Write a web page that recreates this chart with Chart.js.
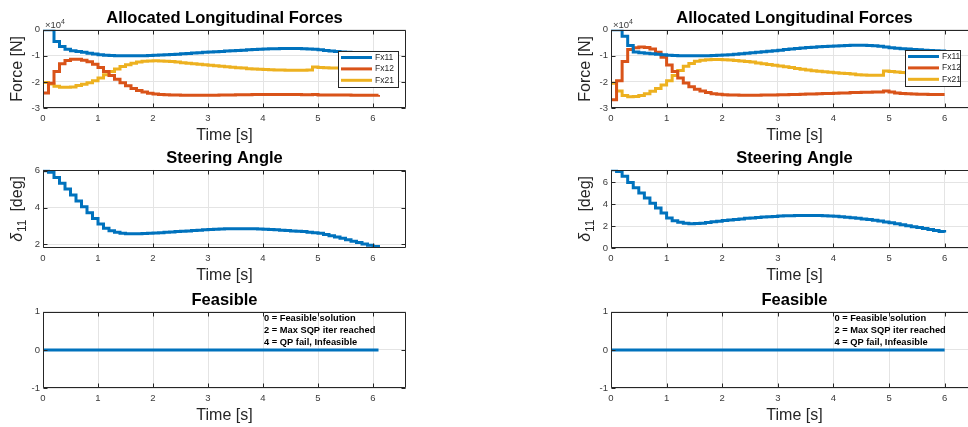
<!DOCTYPE html>
<html>
<head>
<meta charset="utf-8">
<script src="https://cdn.jsdelivr.net/npm/chart.js@4.4.0/dist/chart.umd.min.js"></script>
<style>
  html, body { margin: 0; padding: 0; background: #fff; overflow: hidden; }
  body { width: 968px; height: 427px; position: relative; }
  canvas { position: absolute; }
</style>
</head>
<body>
<canvas id="forcesL"></canvas>
<canvas id="steerL"></canvas>
<canvas id="feasL"></canvas>
<canvas id="forcesR"></canvas>
<canvas id="steerR"></canvas>
<canvas id="feasR"></canvas>
<script>
// sample times [s]
const tLeft = [0,0.1,0.2,0.3,0.4,0.5,0.6,0.7,0.8,0.9,1,1.1,1.2,1.3,1.4,1.5,1.6,1.7,1.8,1.9,
  2,2.1,2.2,2.3,2.4,2.5,2.6,2.7,2.8,2.9,3,3.1,3.2,3.3,3.4,3.5,3.6,3.7,3.8,3.9,
  4,4.1,4.2,4.3,4.4,4.5,4.6,4.7,4.8,4.9,5,5.1,5.2,5.3,5.4,5.5,5.6,5.7,5.8,5.9,6,6.1];
const tRight = [0,0.1,0.2,0.3,0.4,0.5,0.6,0.7,0.8,0.9,1,1.1,1.2,1.3,1.4,1.5,1.6,1.7,1.8,1.9,
  2,2.1,2.2,2.3,2.4,2.5,2.6,2.7,2.8,2.9,3,3.1,3.2,3.3,3.4,3.5,3.6,3.7,3.8,3.9,
  4,4.1,4.2,4.3,4.4,4.5,4.6,4.7,4.8,4.9,5,5.1,5.2,5.3,5.4,5.5,5.6,5.7,5.8,5.9,6];

// allocated longitudinal forces [N], run 1
const fx11Left = [0,0,-4500,-6400,-7500,-8000,-8300,-8600,-9000,-9300,
  -9600,-9800,-9900,-10000,-10000,-10000,-10000,-10000,-10000,-9900,
  -9800,-9700,-9600,-9500,-9400,-9200,-9100,-8900,-8800,-8600,
  -8500,-8400,-8300,-8100,-8000,-7900,-7800,-7700,-7600,-7500,
  -7400,-7300,-7300,-7200,-7200,-7200,-7200,-7300,-7400,-7500,
  -7700,-7900,-8100,-8300,-8500,-8600,-8700,-8800,-8900,-9000,
  -9000,-9100];
const fx12Left = [-24200,-20500,-16000,-13000,-11800,-11300,-11300,-11700,-12300,-13200,
  -14500,-16000,-17500,-19000,-20300,-21500,-22500,-23300,-23900,-24300,
  -24600,-24800,-24900,-25000,-25000,-25100,-25100,-25100,-25100,-25100,
  -25100,-25100,-25000,-25000,-25000,-24900,-24900,-24900,-24800,-24800,
  -24800,-24800,-24800,-24800,-24800,-24800,-24800,-24900,-24900,-24800,
  -25000,-25000,-25000,-25000,-25000,-25000,-25100,-25100,-25100,-25100,
  -25100,-25000];
const fx21Left = [-20200,-20800,-21700,-22000,-22000,-21900,-21400,-20900,-20300,-19500,
  -18500,-17200,-16000,-15000,-14100,-13400,-12800,-12400,-12100,-12000,
  -11900,-12000,-12100,-12200,-12400,-12600,-12800,-13000,-13200,-13400,
  -13600,-13800,-14000,-14200,-14400,-14600,-14700,-14900,-15000,-15100,
  -15200,-15300,-15400,-15400,-15500,-15500,-15500,-15500,-15400,-14300,
  -14500,-14600,-14700,-14700,-14800,-14800,-14900,-14900,-15000,-15000,
  -15000,-15000];
// steering angle [deg], run 1
const delta11Left = [6.0,5.92,5.63,5.32,5.0,4.68,4.36,4.04,3.72,3.4,
  3.1,2.88,2.74,2.65,2.6,2.57,2.57,2.58,2.59,2.6,
  2.62,2.63,2.65,2.67,2.69,2.71,2.73,2.75,2.77,2.79,
  2.8,2.82,2.83,2.84,2.85,2.85,2.85,2.85,2.84,2.83,
  2.82,2.8,2.79,2.77,2.75,2.73,2.71,2.69,2.66,2.63,
  2.6,2.54,2.47,2.4,2.33,2.25,2.17,2.1,2.02,1.95,
  1.88,1.82];
// solver exit flag, run 1
const feasLeft = [0,0,0,0,0,0,0,0,0,0,0,0,0,0,0,0,0,0,0,0,0,0,0,0,0,0,0,0,0,0,0,
  0,0,0,0,0,0,0,0,0,0,0,0,0,0,0,0,0,0,0,0,0,0,0,0,0,0,0,0,0,0,0];

// allocated longitudinal forces [N], run 2
const fx11Right = [0,0,-2500,-6000,-8500,-8800,-9000,-9200,-9400,-9600,
  -9800,-9900,-10000,-10000,-10000,-10000,-10000,-10000,-9900,-9800,
  -9700,-9600,-9400,-9200,-9000,-8800,-8600,-8400,-8200,-8000,
  -7800,-7600,-7400,-7200,-7000,-6800,-6700,-6500,-6400,-6300,
  -6200,-6100,-6000,-5900,-5900,-5900,-6000,-6100,-6300,-6600,
  -6900,-7100,-7300,-7400,-7600,-7700,-7800,-7900,-8000,-8100,
  -8200];
const fx12Right = [-26800,-19500,-12200,-7600,-6900,-6600,-6800,-7400,-8600,-10500,
  -13500,-16000,-18500,-20400,-21800,-22800,-23500,-24100,-24500,-24700,
  -24900,-25000,-25000,-25100,-25100,-25100,-25100,-25000,-25000,-25000,
  -24900,-24900,-24800,-24800,-24700,-24600,-24600,-24500,-24400,-24400,
  -24300,-24200,-24200,-24100,-24100,-24000,-24000,-23900,-23900,-23500,
  -23900,-24200,-24400,-24500,-24600,-24700,-24700,-24800,-24800,-24800,
  -24800];
const fx21Right = [-20500,-23500,-25200,-25700,-25600,-25200,-24500,-23600,-22500,-21200,
  -19500,-17500,-15600,-14000,-12900,-12100,-11700,-11500,-11400,-11400,
  -11500,-11600,-11800,-12000,-12200,-12400,-12700,-13000,-13300,-13600,
  -13900,-14200,-14500,-14800,-15100,-15400,-15700,-15900,-16100,-16300,
  -16500,-16700,-16800,-17000,-17200,-17300,-17400,-17400,-17400,-15800,
  -16000,-16200,-16400,-16500,-16600,-16700,-16800,-16900,-17000,-17100,
  -17200];
// steering angle [deg], run 2
const delta11Right = [7.15,7.0,6.55,6.0,5.5,5.03,4.57,4.1,3.65,3.2,
  2.75,2.5,2.35,2.26,2.22,2.23,2.27,2.33,2.39,2.45,
  2.51,2.56,2.61,2.66,2.71,2.75,2.79,2.83,2.86,2.89,
  2.92,2.94,2.96,2.97,2.98,2.98,2.98,2.97,2.95,2.93,
  2.9,2.86,2.82,2.77,2.72,2.66,2.6,2.53,2.46,2.38,
  2.3,2.21,2.12,2.04,1.95,1.87,1.78,1.69,1.6,1.51,
  1.42];
// solver exit flag, run 2
const feasRight = [0,0,0,0,0,0,0,0,0,0,0,0,0,0,0,0,0,0,0,0,0,0,0,0,0,0,0,0,0,0,0,
  0,0,0,0,0,0,0,0,0,0,0,0,0,0,0,0,0,0,0,0,0,0,0,0,0,0,0,0,0,0];

// tick positions
const timeTicks = [0, 1, 2, 3, 4, 5, 6];
const forceTicks = [-30000, -20000, -10000, 0];
const steerTicksL = [2, 4, 6];
const steerTicksR = [0, 2, 4, 6];
const feasTicks = [-1, 0, 1];

const forceLabels = ['Fx11', 'Fx12', 'Fx21'];
const feasNotes = ['0 = Feasible solution', '2 = Max SQP iter reached', '4 = QP fail, Infeasible'];

const FONT = '"Liberation Sans", Arial, Helvetica, sans-serif';
const C_BLUE = '#0072BD', C_RED = '#D95319', C_YEL = '#EDB120';
const AXIS = '#262626', GRID = '#e4e4e4', TICKC = '#3a3a3a';
const TICK_LEN = 4;

// MATLAB-like box, inward ticks, legend, exponent and annotations
Chart.register({
  id: 'frame',
  afterDraw(chart, args, o) {
    const { ctx, chartArea: a } = chart;
    const xs = chart.scales.x, ys = chart.scales.y;
    const L = Math.round(a.left) + 0.5, R = Math.round(a.right) - 0.5;
    const T = Math.round(a.top) + 0.5, B = Math.round(a.bottom) - 0.5;
    ctx.save();
    ctx.strokeStyle = AXIS;
    ctx.lineWidth = 1;
    ctx.beginPath();
    xs.ticks.forEach(t => {
      const px = Math.round(xs.getPixelForValue(t.value)) + 0.5;
      ctx.moveTo(px, B); ctx.lineTo(px, B - TICK_LEN);
      ctx.moveTo(px, T); ctx.lineTo(px, T + TICK_LEN);
    });
    ys.ticks.forEach(t => {
      const py = Math.round(ys.getPixelForValue(t.value)) + 0.5;
      ctx.moveTo(L, py); ctx.lineTo(L + TICK_LEN, py);
      ctx.moveTo(R, py); ctx.lineTo(R - TICK_LEN, py);
    });
    ctx.rect(L, T, R - L, B - T);
    ctx.stroke();

    if (o.exponent) {
      ctx.fillStyle = TICKC;
      ctx.textAlign = 'left';
      ctx.textBaseline = 'alphabetic';
      ctx.font = `9.5px ${FONT}`;
      ctx.fillText('\u00d710', a.left + 2, a.top - 2);
      const w = ctx.measureText('\u00d710').width;
      ctx.font = `7px ${FONT}`;
      ctx.fillText(o.exponent, a.left + 2 + w, a.top - 6);
    }

    if (o.legend) {
      const lg = o.legend;
      const lx = Math.round(a.right - lg.inset - lg.width), ly = Math.round(a.top + lg.top);
      ctx.fillStyle = '#fff';
      ctx.fillRect(lx, ly, lg.width, 36);
      ctx.strokeStyle = AXIS;
      ctx.lineWidth = 1;
      ctx.strokeRect(lx + 0.5, ly + 0.5, lg.width, 36);
      ctx.font = `8.5px ${FONT}`;
      ctx.textAlign = 'left';
      ctx.textBaseline = 'middle';
      chart.data.datasets.forEach((ds, i) => {
        const yy = ly + 6.5 + i * 11.4;
        ctx.strokeStyle = ds.borderColor;
        ctx.lineWidth = 3;
        ctx.beginPath();
        ctx.moveTo(lx + 3, yy); ctx.lineTo(lx + 34, yy);
        ctx.stroke();
        ctx.fillStyle = AXIS;
        ctx.fillText(ds.label, lx + 37, yy);
      });
    }

    if (o.notes) {
      const nx = xs.getPixelForValue(o.notesAt[0]) + 1;
      const ny = ys.getPixelForValue(o.notesAt[1]);
      ctx.fillStyle = '#000';
      ctx.font = `bold 9.3px ${FONT}`;
      ctx.textAlign = 'left';
      ctx.textBaseline = 'middle';
      o.notes.forEach((s, i) => ctx.fillText(s, nx, ny + (i - 1) * 12));
    }

    if (o.ylabel) {
      // delta with subscript, rotated like a y-axis label
      const cx = a.left - 25, cy = (a.top + a.bottom) / 2;
      ctx.translate(cx, cy);
      ctx.rotate(-Math.PI / 2);
      ctx.fillStyle = AXIS;
      ctx.textBaseline = 'middle';
      ctx.textAlign = 'left';
      ctx.font = `italic 16px ${FONT}`;
      const w1 = ctx.measureText(o.ylabel.sym).width;
      ctx.font = `12px ${FONT}`;
      const w2 = ctx.measureText(o.ylabel.sub).width;
      ctx.font = `16px ${FONT}`;
      const w3 = ctx.measureText('  ' + o.ylabel.unit).width;
      let x0 = -(w1 + w2 + w3) / 2;
      ctx.font = `italic 16px ${FONT}`;
      ctx.fillText(o.ylabel.sym, x0, 0);
      ctx.font = `12px ${FONT}`;
      ctx.fillText(o.ylabel.sub, x0 + w1 + 1, 5);
      ctx.font = `16px ${FONT}`;
      ctx.fillText('  ' + o.ylabel.unit, x0 + w1 + w2, 0);
    }
    ctx.restore();
  }
});

function tickFont() { return { family: FONT, size: 9.5 }; }

function subplot(id, place, cfg) {
  const el = document.getElementById(id);
  el.width = place.w; el.height = place.h;
  el.style.left = place.x + 'px';
  el.style.top = place.y + 'px';
  return new Chart(el, {
    type: 'line',
    data: {
      datasets: cfg.series.map(s => ({
        label: s.label,
        data: cfg.t.map((t, i) => ({ x: t, y: s.values[i] })),
        borderColor: s.color,
        backgroundColor: s.color,
        borderWidth: 3,
        stepped: 'before',
        pointRadius: 0,
        fill: false
      }))
    },
    options: {
      responsive: false,
      animation: false,
      layout: { padding: { left: 0, right: 3, top: 0, bottom: 0 } },
      plugins: {
        legend: { display: false },
        tooltip: { enabled: false },
        title: {
          display: true, text: cfg.title, color: '#000', fullSize: false,
          font: { family: FONT, size: 16.5, weight: 'bold' },
          padding: { top: 9, bottom: 1 }
        },
        frame: cfg.frame || {}
      },
      scales: {
        x: {
          type: 'linear', min: 0, max: 6.6,
          afterBuildTicks: s => { s.ticks = timeTicks.map(v => ({ value: v })); },
          afterFit: s => { s.height = 40; },
          grid: { color: GRID, drawTicks: false },
          border: { display: false },
          ticks: { color: TICKC, font: tickFont(), padding: 5, maxRotation: 0 },
          title: {
            display: true, text: 'Time [s]', color: AXIS,
            font: { family: FONT, size: 16 }, padding: { top: 0, bottom: 3 }
          }
        },
        y: {
          type: 'linear', min: cfg.yMin, max: cfg.yMax,
          afterBuildTicks: s => { s.ticks = cfg.yTicks.map(v => ({ value: v })); },
          afterFit: s => { s.width = 43; },
          grid: { color: GRID, drawTicks: false },
          border: { display: false },
          ticks: { color: TICKC, font: tickFont(), padding: 3, callback: cfg.yFmt || (v => String(v)) },
          title: {
            display: !!cfg.yTitle, text: cfg.yTitle || '', color: AXIS,
            font: { family: FONT, size: 16 }, padding: { top: 8, bottom: 0 }
          }
        }
      }
    }
  });
}

const colL = { x: 0, w: 409 };
const colR = { x: 568, w: 413 };
const row1 = { y: 0, h: 148 }, row2 = { y: 140, h: 148 }, row3 = { y: 282, h: 146 };
const place = (c, r) => ({ x: c.x, w: c.w, y: r.y, h: r.h });
const kN4 = v => String(v / 10000);

subplot('forcesL', place(colL, row1), {
  title: 'Allocated Longitudinal Forces', t: tLeft,
  series: [
    { label: forceLabels[0], values: fx11Left, color: C_BLUE },
    { label: forceLabels[1], values: fx12Left, color: C_RED },
    { label: forceLabels[2], values: fx21Left, color: C_YEL }
  ],
  yMin: -30000, yMax: 0, yTicks: forceTicks, yFmt: kN4, yTitle: 'Force [N]',
  frame: { exponent: '4', legend: { inset: 8, width: 60, top: 21 } }
});
subplot('steerL', place(colL, row2), {
  title: 'Steering Angle', t: tLeft,
  series: [{ label: 'delta11', values: delta11Left, color: C_BLUE }],
  yMin: 1.8, yMax: 6.05, yTicks: steerTicksL,
  frame: { ylabel: { sym: '\u03b4', sub: '11', unit: '[deg]' } }
});
subplot('feasL', place(colL, row3), {
  title: 'Feasible', t: tLeft,
  series: [{ label: 'exitflag', values: feasLeft, color: C_BLUE }],
  yMin: -1, yMax: 1, yTicks: feasTicks,
  frame: { notes: feasNotes, notesAt: [4, 0.5] }
});

subplot('forcesR', place(colR, row1), {
  title: 'Allocated Longitudinal Forces', t: tRight,
  series: [
    { label: forceLabels[0], values: fx11Right, color: C_BLUE },
    { label: forceLabels[1], values: fx12Right, color: C_RED },
    { label: forceLabels[2], values: fx21Right, color: C_YEL }
  ],
  yMin: -30000, yMax: 0, yTicks: forceTicks, yFmt: kN4, yTitle: 'Force [N]',
  frame: { exponent: '4', legend: { inset: 18, width: 55, top: 20 } }
});
subplot('steerR', place(colR, row2), {
  title: 'Steering Angle', t: tRight,
  series: [{ label: 'delta11', values: delta11Right, color: C_BLUE }],
  yMin: 0, yMax: 7.15, yTicks: steerTicksR,
  frame: { ylabel: { sym: '\u03b4', sub: '11', unit: '[deg]' } }
});
subplot('feasR', place(colR, row3), {
  title: 'Feasible', t: tRight,
  series: [{ label: 'exitflag', values: feasRight, color: C_BLUE }],
  yMin: -1, yMax: 1, yTicks: feasTicks,
  frame: { notes: feasNotes, notesAt: [4, 0.5] }
});
</script>
</body>
</html>
